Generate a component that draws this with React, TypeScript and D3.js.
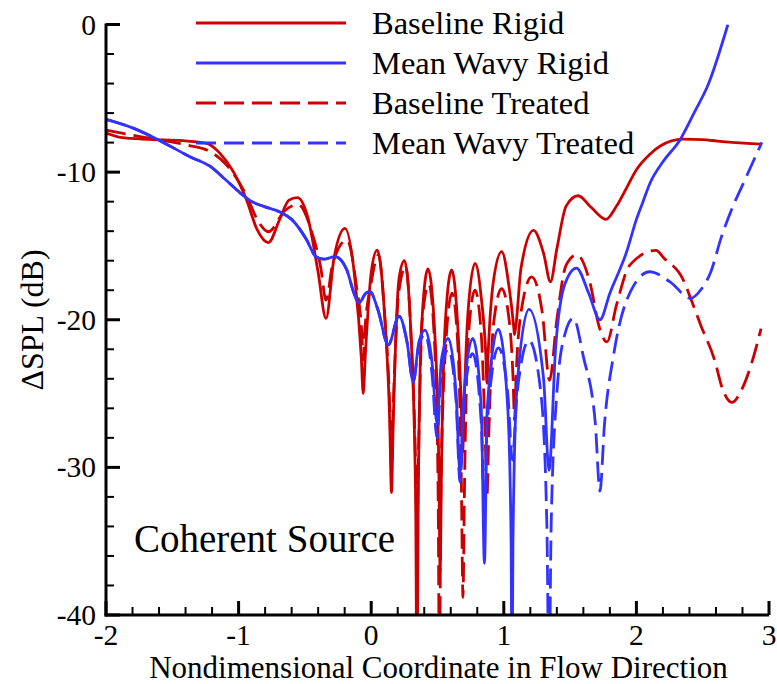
import React from "react";
import * as d3 from "d3";

// ---------- data (x: nondimensional coordinate, y: ΔSPL dB) ----------
const baselineRigid: [number, number][] = [
  [-2.0, -7.35], [-1.89, -7.64], [-1.67, -7.78], [-1.42, -7.87], [-1.24, -8.05],
  [-1.14, -8.73], [-1.04, -9.97], [-0.94, -11.89], [-0.86, -13.9], [-0.776, -14.78],
  [-0.69, -13.2], [-0.62, -11.9], [-0.557, -11.73], [-0.48, -13.0], [-0.4, -16.8],
  [-0.341, -19.91], [-0.28, -15.8], [-0.198, -13.81], [-0.12, -17.5], [-0.075, -22.5],
  [-0.06, -24.99], [-0.045, -22.5], [0.0, -16.8], [0.045, -15.28], [0.1, -19.5],
  [0.14, -27], [0.153, -31.7], [0.166, -27], [0.21, -17.2], [0.25, -16.0],
  [0.3, -21], [0.335, -32], [0.345, -45], [0.355, -32], [0.38, -20.5],
  [0.428, -16.56], [0.48, -21], [0.51, -30], [0.52, -37], [0.53, -30],
  [0.56, -20], [0.607, -16.63], [0.65, -20], [0.68, -26], [0.69, -29],
  [0.7, -26], [0.73, -19.5], [0.783, -16.18], [0.83, -18.5], [0.865, -22.5],
  [0.873, -24.3], [0.881, -22.5], [0.92, -17.5], [0.984, -15.39], [1.04, -17.8],
  [1.075, -20.5], [1.08, -21.0], [1.09, -20.5], [1.13, -16.5], [1.224, -13.95],
  [1.3, -15.5], [1.352, -17.43], [1.4, -15.2], [1.47, -12.3], [1.56, -11.6],
  [1.66, -12.4], [1.77, -13.2], [1.85, -12.3], [1.93, -11.0], [2.0, -9.84],
  [2.1, -8.8], [2.18, -8.23], [2.35, -7.77], [2.5, -7.8], [2.61, -7.9], [2.94, -8.1],
];

const meanWavyRigid: [number, number][] = [
  [-2.0, -6.42], [-1.8, -7.0], [-1.593, -7.87], [-1.367, -8.96], [-1.216, -9.6],
  [-1.1, -10.5], [-0.989, -11.4], [-0.9, -12.0], [-0.8, -12.35], [-0.688, -12.7],
  [-0.6, -13.2], [-0.486, -14.6], [-0.42, -15.7], [-0.36, -15.9], [-0.273, -15.73],
  [-0.185, -16.6], [-0.13, -18.2], [-0.092, -18.87], [-0.04, -18.2], [-0.009, -18.1],
  [0.05, -19.3], [0.129, -21.7], [0.21, -19.75], [0.27, -21.5], [0.317, -24.2],
  [0.36, -21.5], [0.406, -20.7], [0.46, -23], [0.496, -27.0], [0.53, -22.7],
  [0.581, -21.26], [0.64, -25], [0.67, -30.4], [0.7, -25], [0.765, -21.26],
  [0.83, -26], [0.854, -36.5], [0.875, -26], [0.959, -20.65], [1.03, -26],
  [1.055, -35], [1.062, -45], [1.069, -35], [1.1, -24.5], [1.19, -19.3],
  [1.3, -24], [1.341, -30.2], [1.39, -22], [1.46, -17.6], [1.548, -16.5],
  [1.64, -18.2], [1.725, -20.0], [1.8, -18.2], [1.93, -15.3], [2.0, -13.2],
  [2.05, -12.0], [2.1, -10.8], [2.2, -9.3], [2.33, -7.8], [2.44, -5.9],
  [2.54, -4.1], [2.69, 0],
];

const baselineTreated: [number, number][] = [
  [-2.0, -7.15], [-1.8, -7.5], [-1.54, -7.9], [-1.37, -8.2], [-1.24, -8.5],
  [-1.09, -9.52], [-0.94, -11.6], [-0.86, -13.2], [-0.776, -14.04], [-0.65, -12.6],
  [-0.55, -12.2], [-0.45, -14.0], [-0.38, -16.5], [-0.341, -18.67], [-0.29, -16.2],
  [-0.183, -14.6], [-0.11, -17.8], [-0.07, -21], [-0.06, -22.73], [-0.05, -21],
  [0.0, -17.5], [0.055, -15.6], [0.1, -19.5], [0.14, -26], [0.153, -30],
  [0.166, -26], [0.21, -18], [0.26, -16.4], [0.3, -21], [0.335, -30],
  [0.345, -35], [0.355, -30], [0.385, -20], [0.435, -17.6], [0.48, -22],
  [0.505, -32], [0.515, -45], [0.525, -32], [0.56, -22], [0.61, -18.2],
  [0.655, -22], [0.68, -31], [0.692, -38.8], [0.704, -31], [0.73, -21.5],
  [0.783, -18.0], [0.83, -21], [0.86, -28], [0.873, -32.0], [0.886, -28],
  [0.92, -20.5], [0.984, -17.9], [1.04, -20], [1.07, -24], [1.081, -26.8],
  [1.092, -24], [1.13, -19.5], [1.21, -17.1], [1.29, -19.5], [1.345, -24.1],
  [1.4, -20], [1.47, -16.3], [1.552, -15.6], [1.65, -17.5], [1.72, -20.5],
  [1.778, -21.5], [1.85, -19], [1.95, -16.3], [2.148, -15.3], [2.205, -15.8],
  [2.359, -17.4], [2.409, -18.55], [2.486, -20.39], [2.588, -22.68], [2.652, -24.75],
  [2.72, -25.6], [2.793, -24.75], [2.87, -22.91], [2.94, -20.6],
];

const meanWavyTreated: [number, number][] = [
  [-2.0, -6.42], [-1.8, -7.0], [-1.593, -7.87], [-1.367, -8.96], [-1.216, -9.6],
  [-1.1, -10.5], [-0.989, -11.4], [-0.9, -12.0], [-0.8, -12.35], [-0.688, -12.7],
  [-0.6, -13.2], [-0.486, -14.6], [-0.42, -15.7], [-0.36, -15.9], [-0.273, -15.73],
  [-0.185, -16.6], [-0.13, -18.2], [-0.092, -18.87], [-0.04, -18.2], [-0.009, -18.1],
  [0.05, -19.3], [0.129, -21.7], [0.21, -19.75], [0.27, -21.5], [0.317, -24.2],
  [0.36, -21.7], [0.406, -21.0], [0.46, -23.8], [0.496, -28.0], [0.53, -23.5],
  [0.581, -22.0], [0.64, -25.5], [0.67, -31.0], [0.7, -25.5], [0.765, -22.3],
  [0.83, -27], [0.854, -32.7], [0.875, -27], [0.959, -21.9], [1.03, -25],
  [1.065, -29.5], [1.1, -25], [1.19, -21.4], [1.28, -25], [1.325, -34],
  [1.341, -45], [1.357, -34], [1.4, -25], [1.46, -21], [1.525, -19.9],
  [1.6, -22.5], [1.69, -27], [1.725, -31.6], [1.76, -27], [1.826, -22.5],
  [1.927, -18.67], [2.1, -16.75], [2.256, -17.45], [2.409, -18.55], [2.486, -17.97],
  [2.563, -16.71], [2.64, -14.42], [2.716, -12.58], [2.819, -10.51], [2.946, -7.99],
];

const xTicks = [-2, -1, 0, 1, 2, 3];
const yTicks = [0, -10, -20, -30, -40];
const legendLabels = ["Baseline Rigid", "Mean Wavy Rigid", "Baseline Treated", "Mean Wavy Treated"];

const RED = "#cc0000";
const BLUE = "#3333ff";
const FONT = "'Liberation Serif', 'Times New Roman', serif";

export default function App() {
  const W = 777;
  const H = 684;
  const x = d3.scaleLinear().domain([-2, 3]).range([106, 769]);
  const y = d3.scaleLinear().domain([-40, 0]).range([615, 24.5]);

  const line = d3
    .line<[number, number]>()
    .x((d) => x(d[0]))
    .y((d) => y(d[1]))
    .curve(d3.curveMonotoneX);

  const series = [
    { data: baselineRigid, color: RED, dash: undefined as string | undefined },
    { data: baselineTreated, color: RED, dash: "20,8" },
    { data: meanWavyRigid, color: BLUE, dash: undefined },
    { data: meanWavyTreated, color: BLUE, dash: "20,8" },
  ];

  const legendStyle = [
    { color: RED, dash: undefined as string | undefined },
    { color: BLUE, dash: undefined },
    { color: RED, dash: "20,8" },
    { color: BLUE, dash: "20,8" },
  ];

  const xMinor = d3.range(-2, 3.0001, 0.2).filter((v) => Math.abs(v - Math.round(v)) > 1e-6);
  const yMinor = d3.range(-40, 0.0001, 2).filter((v) => Math.abs(v % 10) > 1e-6);

  const [x0, x1] = x.range();
  const [y0, y1] = y.range();

  return (
    <svg
      width={W}
      height={H}
      style={{ position: "absolute", left: 0, top: 0, background: "#fff" }}
      fontFamily={FONT}
    >
      <defs>
        <clipPath id="plotClip">
          <rect x={x0} y={y1} width={x1 - x0 + 2} height={y0 - y1} />
        </clipPath>
      </defs>

      {/* curves */}
      <g clipPath="url(#plotClip)" fill="none">
        {series.map((s, i) => (
          <path
            key={i}
            d={line(s.data) || ""}
            stroke={s.color}
            strokeWidth={2.8}
            strokeDasharray={s.dash}
            strokeLinejoin="round"
          />
        ))}
      </g>

      {/* axes */}
      <g stroke="#000">
        <line x1={x0} y1={y1 - 1} x2={x0} y2={y0 + 1.5} strokeWidth={3} />
        <line x1={x0 - 1.5} y1={y0} x2={x1} y2={y0} strokeWidth={3} />
        {xTicks.map((t) => (
          <line key={"xt" + t} x1={x(t)} x2={x(t)} y1={y0} y2={y0 - 14} strokeWidth={3} />
        ))}
        {xMinor.map((t, i) => (
          <line key={"xm" + i} x1={x(t)} x2={x(t)} y1={y0} y2={y0 - 8} strokeWidth={2} />
        ))}
        {yTicks.map((t) => (
          <line key={"yt" + t} x1={x0} x2={x0 + 14} y1={y(t)} y2={y(t)} strokeWidth={3} />
        ))}
        {yMinor.map((t, i) => (
          <line key={"ym" + i} x1={x0} x2={x0 + 8} y1={y(t)} y2={y(t)} strokeWidth={2} />
        ))}
      </g>

      {/* tick labels */}
      <g fontSize={29.5} fill="#000">
        {xTicks.map((t) => (
          <text key={"xl" + t} x={x(t)} y={645} textAnchor="middle">
            {t}
          </text>
        ))}
        {yTicks.map((t) => (
          <text key={"yl" + t} x={96} y={y(t) + 10} textAnchor="end">
            {t}
          </text>
        ))}
      </g>

      {/* axis titles */}
      <text x={(x0 + x1) / 2 + 1} y={678} textAnchor="middle" fontSize={31} fill="#000">
        Nondimensional Coordinate in Flow Direction
      </text>
      <text
        transform={`translate(43, ${320}) rotate(-90)`}
        textAnchor="middle"
        fontSize={32}
        fill="#000"
      >
        ΔSPL (dB)
      </text>

      {/* legend */}
      <g>
        {legendLabels.map((lab, i) => {
          const yy = 23 + i * 40;
          return (
            <g key={lab}>
              <line
                x1={196}
                x2={346}
                y1={yy}
                y2={yy}
                stroke={legendStyle[i].color}
                strokeWidth={2.8}
                strokeDasharray={legendStyle[i].dash}
              />
              <text x={372} y={yy + 11} fontSize={32.5} fill="#000">
                {lab}
              </text>
            </g>
          );
        })}
      </g>

      <text x={134} y={552} fontSize={39} fill="#000">
        Coherent Source
      </text>
    </svg>
  );
}
